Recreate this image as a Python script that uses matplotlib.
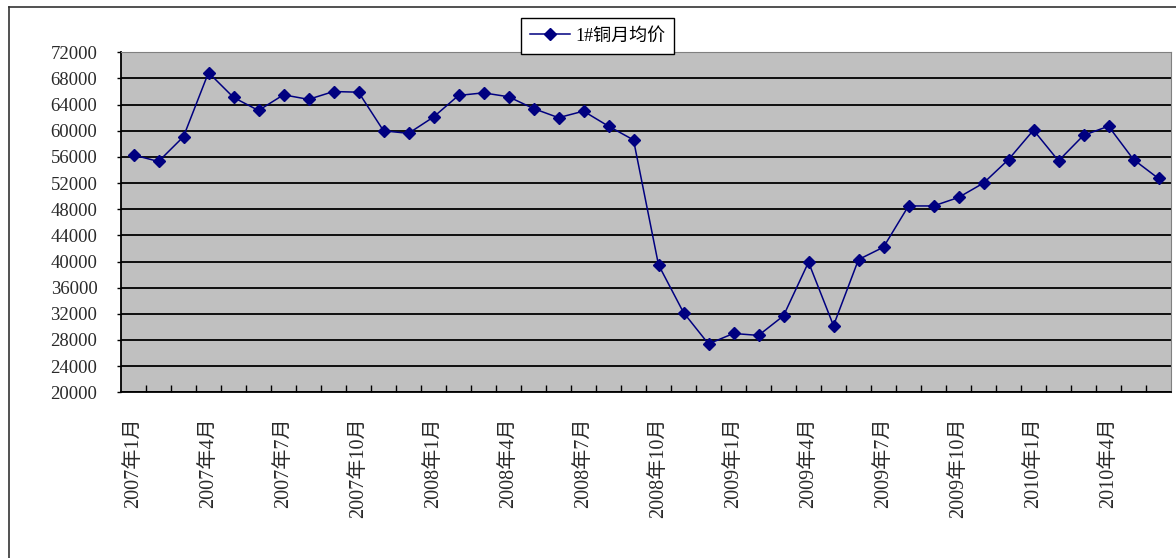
import matplotlib.pyplot as plt
from matplotlib.lines import Line2D
from matplotlib.ticker import FixedLocator, MultipleLocator

plt.rcParams['font.family'] = ['Liberation Serif', 'Noto Sans CJK SC', 'DejaVu Sans']

# monthly average price of 1# copper, 2007-01 .. 2010-06
prices = [56300, 55300, 59100, 68900, 65100, 63100, 65500, 64800, 66000, 65900, 60000, 59600,
          62100, 65400, 65800, 65200, 63400, 62000, 63000, 60700, 58600, 39500, 32200, 27400,
          29000, 28700, 31700, 39900, 30200, 40300, 42200, 48500, 48500, 49800, 52000, 55600,
          60100, 55400, 59300, 60700, 55600, 52700]
tick_labels = ["2007年1月", "2007年4月", "2007年7月", "2007年10月",
               "2008年1月", "2008年4月", "2008年7月", "2008年10月",
               "2009年1月", "2009年4月", "2009年7月", "2009年10月",
               "2010年1月", "2010年4月"]
series_name = "1#铜月均价"

W, H = 1176, 558
fig = plt.figure(figsize=(W / 100, H / 100), dpi=100)
ax = fig.add_axes([121 / W, 1 - 392.3 / H, 1050 / W, 340 / H])
ax.set_facecolor('#c0c0c0')

x = list(range(len(prices)))
ax.plot(x, prices, color='#000080', lw=1.1, marker='D', ms=6,
        mfc='#000080', mec='#000080', label=series_name, zorder=3)

ax.set_xlim(-0.5, len(prices) - 0.5)
ax.set_ylim(20000, 72000)
ax.yaxis.set_major_locator(MultipleLocator(4000))
ax.grid(axis='y', color='black', lw=1.3)
ax.set_axisbelow(True)

ax.xaxis.set_major_locator(FixedLocator(x[::3]))
ax.set_xticklabels(tick_labels, rotation=90, fontsize=14.5, color='#2a2a2a')
ax.xaxis.set_minor_locator(FixedLocator([i + 0.5 for i in range(len(prices) - 1)]))
ax.tick_params(axis='x', which='major', length=0, pad=18)
ax.tick_params(axis='x', which='minor', direction='in', length=5, width=1, color='black')
ax.tick_params(axis='y', labelsize=13.5, labelcolor='#2a2a2a', length=3, width=1, pad=14)

for s in ['left', 'bottom']:
    ax.spines[s].set_color('black')
    ax.spines[s].set_linewidth(1.3)
for s in ['top', 'right']:
    ax.spines[s].set_color('#808080')
    ax.spines[s].set_linewidth(0.8)

leg = ax.legend(loc='center', bbox_to_anchor=(597.5 / W, 1 - 36 / H),
                bbox_transform=fig.transFigure, fontsize=13, frameon=True,
                fancybox=False, edgecolor='black', framealpha=1,
                handlelength=2.2, borderpad=0.5, handletextpad=0.3)
leg.get_frame().set_linewidth(1.0)

# outer chart frame (cut off at right and bottom)
fig.add_artist(Line2D([9 / W, 9 / W], [0, 1 - 7 / H], transform=fig.transFigure,
                      color='#333333', lw=1.2))
fig.add_artist(Line2D([9 / W, 1], [1 - 7 / H, 1 - 7 / H], transform=fig.transFigure,
                      color='#333333', lw=1.2))

fig.savefig('out.png', dpi=100)
plt.close(fig)
